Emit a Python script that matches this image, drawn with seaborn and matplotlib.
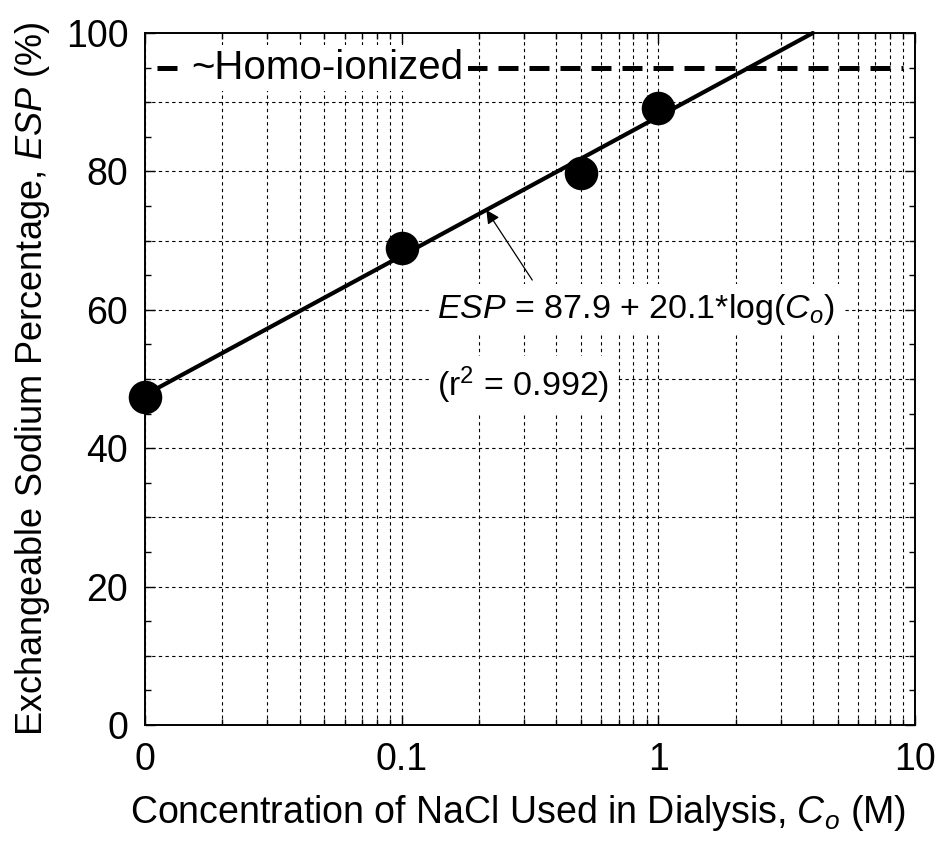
import numpy as np
import pandas as pd
import matplotlib
matplotlib.use("Agg")
import matplotlib.pyplot as plt
from matplotlib.ticker import FixedLocator, LogLocator, NullFormatter, MultipleLocator
import seaborn as sns

# Measured exchangeable sodium percentage vs. NaCl concentration
conc = [0.01, 0.1, 0.5, 1.0]          # M (0.01 plotted and labelled as "0")
esp = [47.4, 68.9, 79.8, 89.2]        # %

# Log-linear fit: ESP = a + b*log10(C)
fit_a = 87.9
fit_b = 20.1
homo_level = 95.0

x_ticks = [0.01, 0.1, 1, 10]
x_ticklabels = ["0", "0.1", "1", "10"]
y_ticks = [0, 20, 40, 60, 80, 100]

sns.set_style("ticks")
plt.rcParams["font.family"] = ["Liberation Sans", "DejaVu Sans"]
plt.rcParams["mathtext.fontset"] = "custom"
plt.rcParams["mathtext.rm"] = "Liberation Sans"
plt.rcParams["mathtext.it"] = "Liberation Sans:italic"
plt.rcParams["text.color"] = "black"
plt.rcParams["axes.labelcolor"] = "black"
plt.rcParams["xtick.color"] = "black"
plt.rcParams["ytick.color"] = "black"

fig = plt.figure(figsize=(9.43, 8.55), dpi=100)
ax = fig.add_axes([145 / 943, 130 / 855, 770 / 943, 692 / 855])

ax.set_xscale("log")
ax.set_xlim(0.01, 10)
ax.set_ylim(0, 100)

# grid: every decade subdivision and every 10 %
ax.xaxis.set_major_locator(FixedLocator(x_ticks))
ax.xaxis.set_minor_locator(LogLocator(base=10, subs=np.arange(2, 10)))
ax.xaxis.set_minor_formatter(NullFormatter())
ax.set_xticklabels(x_ticklabels)
ax.yaxis.set_major_locator(FixedLocator(y_ticks))
ax.yaxis.set_minor_locator(MultipleLocator(5))

grid_kw = dict(color="black", linestyle=(0, (3, 3)), linewidth=0.8)
ax.grid(True, which="both", axis="x", **grid_kw)
for v in range(10, 100, 10):
    ax.axhline(v, zorder=0.5, **grid_kw)

# homo-ionized reference level
ax.axhline(homo_level, xmin=0.015, xmax=0.985, color="black", linestyle=(0, (4, 2.2)),
           linewidth=3.6, zorder=2)
ax.text(0.0152, homo_level, "~Homo-ionized", fontsize=29, va="center", ha="left",
        color="black", bbox=dict(facecolor="white", edgecolor="none", pad=3), zorder=3)

# fitted line
x_end = 10 ** ((100 - fit_a) / fit_b)
fit_df = pd.DataFrame({"C": [0.01, x_end]})
fit_df["ESP"] = fit_a + fit_b * np.log10(fit_df["C"])
sns.lineplot(data=fit_df, x="C", y="ESP", ax=ax, color="black", linewidth=3,
             zorder=4, clip_on=False)

# data points
pts = pd.DataFrame({"C": conc, "ESP": esp})
sns.scatterplot(data=pts, x="C", y="ESP", ax=ax, s=500, color="black",
                edgecolor="black", zorder=5, clip_on=False)

# equation annotation
ax.text(0.137, 60.0, r"$ESP$ = 87.9 + 20.1*log($C_o$)", fontsize=24.5, ha="left",
        va="center", color="black",
        bbox=dict(facecolor="white", edgecolor="none", pad=6), zorder=3)
ax.text(0.137, 49.1, r"(r$^2$ = 0.992)", fontsize=24.5, ha="left", va="center",
        color="black", bbox=dict(facecolor="white", edgecolor="none", pad=6), zorder=3)
ax.annotate("", xy=(0.2137, fit_a + fit_b * np.log10(0.2137)), xytext=(0.3227, 64.3),
            arrowprops=dict(arrowstyle="-|>", color="black", lw=0.9,
                            mutation_scale=20, shrinkA=0, shrinkB=0), zorder=6)

ax.tick_params(which="both", direction="in", top=True, right=True, color="black",
               labelcolor="black", width=1.0)
ax.tick_params(which="major", length=7, labelsize=27, pad=12)
ax.tick_params(which="minor", length=4)
for sp in ax.spines.values():
    sp.set_color("black")
    sp.set_linewidth(1.4)

ax.set_xlabel(r"Concentration of NaCl Used in Dialysis, $C_o$ (M)", fontsize=27,
              labelpad=10, color="black")
ax.xaxis.set_label_coords(0.484, -0.098)
ax.set_ylabel(r"Exchangeable Sodium Percentage, $ESP$ (%)", fontsize=26, labelpad=10,
              color="black")

fig.savefig("out.png", dpi=100, facecolor="white")
